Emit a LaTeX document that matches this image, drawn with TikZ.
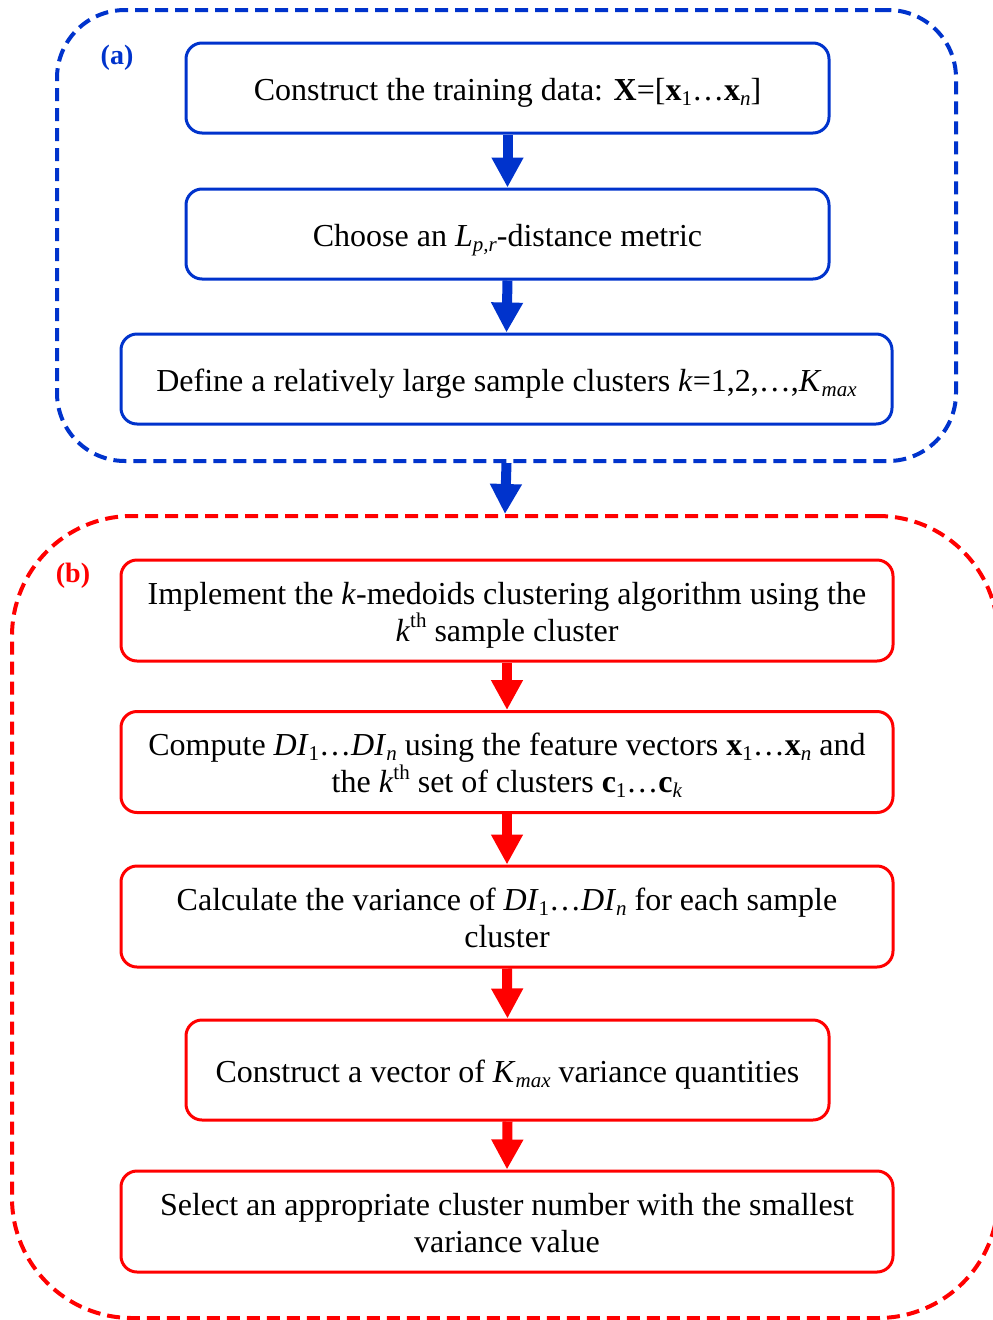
\documentclass[tikz,border=0pt]{standalone}
\usepackage{fontspec}
\setmainfont{Liberation Serif}
\usetikzlibrary{arrows.meta}
\definecolor{flowblue}{RGB}{0,51,204}
\definecolor{flowred}{RGB}{255,0,0}
% small lowered / raised indices in the text font
\newcommand{\lo}[1]{\raisebox{-0.16em}{\fontsize{21}{21}\selectfont #1}}
\newcommand{\hi}[1]{\raisebox{0.42em}{\fontsize{21}{21}\selectfont #1}}
% struts that fix the height of a first line and the depth of a last line
\newcommand{\topstrut}{\rule{0pt}{31pt}}
\newcommand{\botstrut}{\rule[-7pt]{0pt}{0pt}}
\tikzset{
  stepbox/.style={draw, line width=3pt, rounded corners=16pt, inner sep=0pt,
    align=center, font=\fontsize{32}{37}\selectfont, text=black},
  oneline/.style={text height=30pt, text depth=6pt},
  bluebox/.style={stepbox, draw=flowblue},
  redbox/.style={stepbox, draw=flowred},
  group/.style={draw, line width=4pt, dash pattern=on 13pt off 7pt, inner sep=0pt},
  flowarrow/.style={line width=10pt, -{Triangle[width=30pt,length=30pt]}},
  tag/.style={font=\bfseries\fontsize{28}{28}\selectfont, inner sep=0pt},
}
\begin{document}
\begin{tikzpicture}[x=1pt, y=-1pt]
\useasboundingbox (0,0) rectangle (993,1320);
\clip (0,0) rectangle (993,1320);

% dashed group frames
\node[group, draw=flowblue, rounded corners=68pt, minimum width=899pt, minimum height=451pt]
  (grpA) at (506.5,235.5) {};
\node[group, draw=flowred, rounded corners=120pt, minimum width=986pt, minimum height=802pt]
  (grpB) at (505,917) {};

\node[tag, text=flowblue] (tagA) at (117,58) {(a)};
\node[tag, text=flowred] (tagB) at (73,576) {(b)};

% part (a)
\node[bluebox, oneline, minimum width=643pt, minimum height=90pt] (a1) at (507.5,88)
  {Construct the training data: \textbf{X}=[\textbf{x}\lo{1}…\textbf{x}\lo{\textit{n}}]};
\node[bluebox, oneline, minimum width=643pt, minimum height=90pt] (a2) at (507.5,234)
  {Choose an \textit{L}\lo{\textit{p,r}}-distance metric};
\node[bluebox, oneline, minimum width=771pt, minimum height=90pt] (a3) at (506.5,379)
  {Define a relatively large sample clusters \textit{k}=1,2,…,\textit{K}\lo{\textit{max}}};

% part (b)
\node[redbox, minimum width=772pt, minimum height=101pt] (b1) at (507,610.5)
  {\topstrut Implement the \textit{k}-medoids clustering algorithm using the\\
   \textit{k}\hi{th} sample cluster\botstrut};
\node[redbox, minimum width=772pt, minimum height=101pt] (b2) at (507,762)
  {\topstrut Compute \textit{DI}\lo{1}…\textit{DI}\lo{\textit{n}} using the feature vectors
   \textbf{x}\lo{1}…\textbf{x}\lo{\textit{n}} and\\
   the \textit{k}\hi{th} set of clusters \textbf{c}\lo{1}…\textbf{c}\lo{\textit{k}}\botstrut};
\node[redbox, minimum width=772pt, minimum height=101pt] (b3) at (507,916.5)
  {\topstrut Calculate the variance of \textit{DI}\lo{1}…\textit{DI}\lo{\textit{n}} for each sample\\
   cluster\botstrut};
\node[redbox, oneline, minimum width=643pt, minimum height=100pt] (b4) at (507.5,1070)
  {Construct a vector of \textit{K}\lo{\textit{max}} variance quantities};
\node[redbox, minimum width=772pt, minimum height=101pt] (b5) at (507,1221.5)
  {\topstrut Select an appropriate cluster number with the smallest\\
   variance value\botstrut};

% connectors
\draw[flowarrow, flowblue] (a1.south) -- (a2.north);
\draw[flowarrow, flowblue] (a2.south) -- (a3.north);
\draw[flowarrow, flowblue] (grpA.south) -- (grpB.north);
\draw[flowarrow, flowred] (b1.south) -- (b2.north);
\draw[flowarrow, flowred] (b2.south) -- (b3.north);
\draw[flowarrow, flowred] (b3.south) -- (b4.north);
\draw[flowarrow, flowred] (b4.south) -- (b5.north);
\end{tikzpicture}
\end{document}
